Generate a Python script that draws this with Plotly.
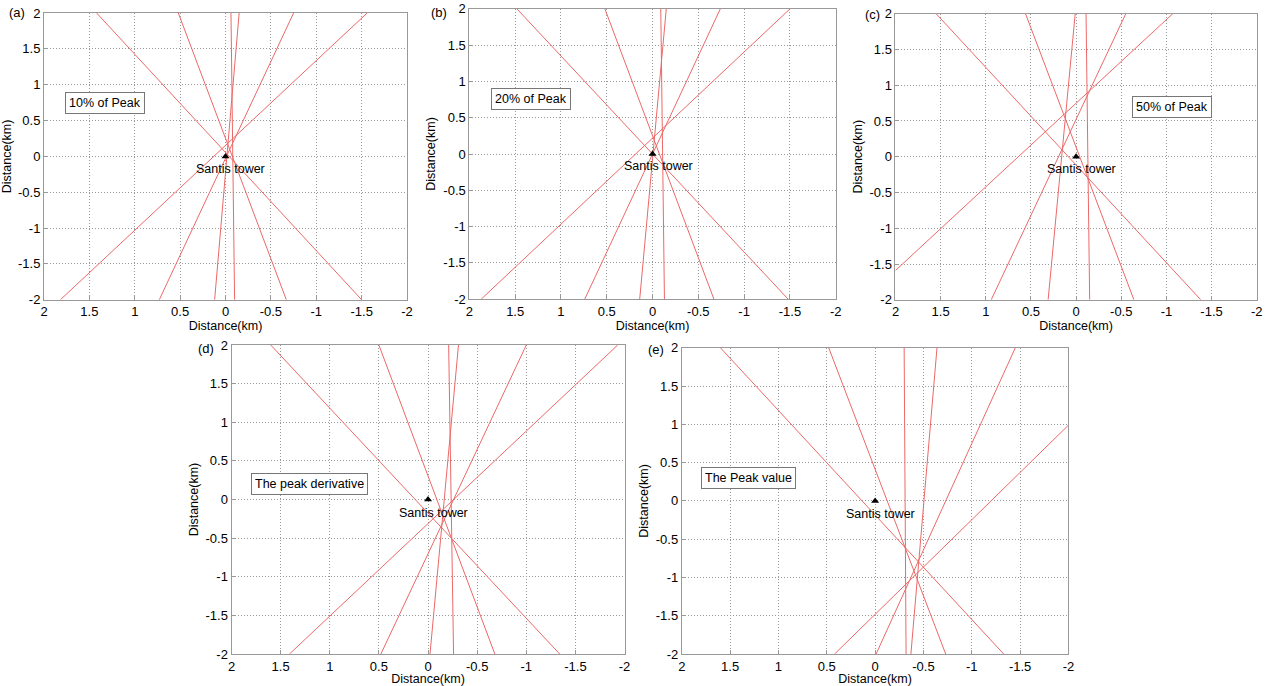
import plotly.graph_objects as go

# ---- data: each panel's lines given by start (x0,y0) and end (x1,y1) in km ----
panel_tags = ["(a)", "(b)", "(c)", "(d)", "(e)"]
panel_texts = ["10% of Peak", "20% of Peak", "50% of Peak", "The peak derivative", "The Peak value"]

a_x0 = [1.42, 0.52, -0.06, -0.15, -0.75, -1.56]
a_y0 = [2, 2, 2, 2, 2, 2]
a_x1 = [-1.50, -0.67, -0.10, 0.12, 0.73, 1.82]
a_y1 = [-2, -2, -2, -2, -2, -2]

b_x0 = [1.48, 0.52, -0.09, -0.15, -0.74, -1.50]
b_y0 = [2, 2, 2, 2, 2, 2]
b_x1 = [-1.48, -0.67, -0.13, 0.14, 0.74, 1.87]
b_y1 = [-2, -2, -2, -2, -2, -2]

c_x0 = [1.55, 0.56, 0.01, -0.11, -0.55, -1.07]
c_y0 = [2, 2, 2, 2, 2, 2]
c_x1 = [-1.38, -0.64, 0.31, -0.15, 0.94, 2.0]
c_y1 = [-2, -2, -2, -2, -2, -1.59]

d_x0 = [1.60, 0.50, -0.21, -0.31, -1.00, -1.93]
d_y0 = [2, 2, 2, 2, 2, 2]
d_x1 = [-1.34, -0.68, -0.26, -0.02, 0.48, 1.41]
d_y1 = [-2, -2, -2, -2, -2, -2]

e_x0 = [1.60, 0.48, -0.30, -0.64, -1.45, -2.0]
e_y0 = [2, 2, 2, 2, 2, 0.99]
e_x1 = [-1.33, -0.73, -0.32, -0.37, -0.01, 0.42]
e_y1 = [-2, -2, -2, -2, -2, -2]

tower_x = [0.0]
tower_y = [0.0]
tower_label = "Santis tower"

# box label centres (data coords)
box_x = [1.33, 1.33, -1.06, 1.21, 1.31]
box_y = [0.75, 0.76, 0.69, 0.20, 0.30]

tick_vals = [-2, -1.5, -1, -0.5, 0, 0.5, 1, 1.5, 2]
tick_text = ["-2", "-1.5", "-1", "-0.5", "0", "0.5", "1", "1.5", "2"]

# ---- layout geometry (paper) ----
dom_x = [(0.0346, 0.320), (0.369, 0.657), (0.704, 0.988), (0.182, 0.491), (0.536, 0.840)]
dom_y = [(0.563, 0.981), (0.564, 0.987), (0.563, 0.980), (0.0466, 0.497), (0.0466, 0.493)]
tag_pos = [(17, 13), (439, 12), (872, 15), (206, 348), (656, 349)]

W, H = 1272, 686
FONT = "Liberation Sans, Arial, sans-serif"
RED = "rgb(236,104,104)"

panels = [
    (a_x0, a_y0, a_x1, a_y1),
    (b_x0, b_y0, b_x1, b_y1),
    (c_x0, c_y0, c_x1, c_y1),
    (d_x0, d_y0, d_x1, d_y1),
    (e_x0, e_y0, e_x1, e_y1),
]

fig = go.Figure()
annotations = []
for i, (x0s, y0s, x1s, y1s) in enumerate(panels):
    n = i + 1
    xa = "x" if n == 1 else f"x{n}"
    ya = "y" if n == 1 else f"y{n}"
    for x0, y0, x1, y1 in zip(x0s, y0s, x1s, y1s):
        fig.add_trace(go.Scatter(x=[x0, x1], y=[y0, y1], mode="lines",
                                 line=dict(color=RED, width=1),
                                 xaxis=xa, yaxis=ya, showlegend=False,
                                 hoverinfo="skip"))
    fig.add_trace(go.Scatter(x=tower_x, y=tower_y, mode="markers",
                             marker=dict(symbol="triangle-up", size=7, color="black"),
                             xaxis=xa, yaxis=ya, showlegend=False))
    annotations.append(dict(x=-0.06, y=-0.17, xref=xa, yref=ya, text=tower_label,
                            showarrow=False, font=dict(family=FONT, size=12.5, color="black")))
    annotations.append(dict(x=box_x[i], y=box_y[i], xref=xa, yref=ya, text=panel_texts[i],
                            showarrow=False, font=dict(family=FONT, size=12.5, color="black"),
                            bordercolor="#777", borderwidth=1, borderpad=3, bgcolor="white"))
    tx, ty = tag_pos[i]
    annotations.append(dict(x=tx / W, y=1 - ty / H, xref="paper", yref="paper",
                            text=panel_tags[i], showarrow=False, xanchor="center", yanchor="middle",
                            font=dict(family=FONT, size=13, color="black")))

    axis_common = dict(showline=True, mirror=True, linecolor="#999", linewidth=1,
                       showgrid=True, gridcolor="#999", griddash="1px,2px", gridwidth=1,
                       zeroline=False, ticks="inside", ticklen=4, tickcolor="#999",
                       tickvals=tick_vals, ticktext=tick_text, automargin=False,
                       tickfont=dict(family=FONT, size=13, color="black"))
    fig.update_layout(**{
        ("xaxis" if n == 1 else f"xaxis{n}"): dict(
            domain=list(dom_x[i]), range=[2, -2], anchor=ya,
            title=dict(text="Distance(km)", standoff=2,
                       font=dict(family=FONT, size=12.5, color="black")),
            **axis_common),
        ("yaxis" if n == 1 else f"yaxis{n}"): dict(
            domain=list(dom_y[i]), range=[-2, 2], anchor=xa,
            title=dict(text="Distance(km)", standoff=4,
                       font=dict(family=FONT, size=12.5, color="black")),
            **axis_common),
    })

fig.update_layout(width=W, height=H, margin=dict(l=0, r=0, t=0, b=0),
                  plot_bgcolor="white", paper_bgcolor="white",
                  annotations=annotations, showlegend=False)

fig.write_html("out.html", config={"displayModeBar": False},
               post_script="document.body.style.margin='0px';document.body.style.padding='0px';")
